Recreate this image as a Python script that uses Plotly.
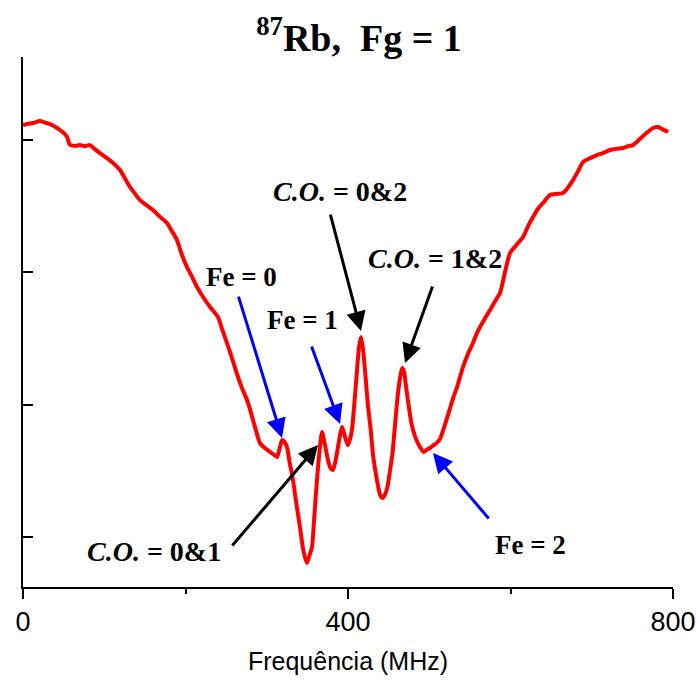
import plotly.graph_objects as go

# Frequency (MHz) and signal (arb. units)
freq = [0, 6.0, 12.3, 20.9, 27.0, 33.2, 40.0, 45.5, 50.0, 54.2, 57.8, 64.0, 70.2, 76.0,
        82.5, 88.0, 94.8, 103.4, 110.8, 119.4, 125.0, 131.7, 138.0, 144.0, 152.0, 160.0,
        168.0, 177.2, 183.0, 189.5, 195.0, 201.8, 208.0, 214.2, 222.0, 230.2, 240.0,
        245.0, 251.1, 258.0, 264.6, 270.0, 275.7, 281.0, 285.5, 291.7, 298.0, 304.0,
        308.0, 312.6, 315.5, 318.8, 321.5, 324.9, 328.0, 332.3, 336.5, 340.9, 345.0,
        349.5, 352.5, 355.7, 358.5, 361.8, 365.0, 368.0, 371.5, 375.4, 378.5, 381.5,
        384.5, 387.7, 390.2, 392.6, 394.5, 396.3, 398.2, 400.0, 402.5, 404.9, 408.0,
        411.1, 413.5, 416.0, 418.5, 420.9, 424.6, 428.0, 430.8, 435.0, 439.4, 442.5,
        445.5, 448.5, 451.7, 454.8, 457.8, 461.0, 464.0, 466.5, 468.9, 471.5, 473.8,
        478.0, 482.5, 486.0, 488.6, 493.0, 497.2, 501.0, 504.6, 509.0, 513.2, 516.0,
        521.0, 526.0, 530.0, 534.2, 541.5, 547.5, 553.8, 558.0, 562.5, 568.5, 574.8,
        581.0, 587.1, 593.0, 599.4, 608.0, 615.4, 621.5, 627.7, 634.0, 640.0, 648.5,
        657.2, 664.6, 671.0, 676.9, 683.0, 689.2, 698.0, 706.5, 714.5, 722.5, 730.5,
        738.5, 745.0, 750.8, 756.0, 761.8, 768.5, 775.4, 781.5, 787.7, 794.0, 800.0]
signal = [4.109, 4.118, 4.125, 4.140, 4.128, 4.117, 4.095, 4.072, 4.050, 4.019, 3.960,
          3.952, 3.958, 3.950, 3.958, 3.930, 3.898, 3.860, 3.823, 3.770, 3.712, 3.642,
          3.590, 3.543, 3.505, 3.468, 3.420, 3.370, 3.312, 3.242, 3.140, 3.038, 2.965,
          2.887, 2.808, 2.736, 2.660, 2.570, 2.464, 2.335, 2.208, 2.118, 2.034, 1.930,
          1.830, 1.709, 1.670, 1.642, 1.625, 1.604, 1.660, 1.732, 1.720, 1.679, 1.570,
          1.430, 1.250, 1.075, 0.900, 0.804, 0.860, 0.925, 1.150, 1.430, 1.650, 1.792,
          1.700, 1.581, 1.520, 1.506, 1.570, 1.679, 1.770, 1.830, 1.800, 1.755, 1.720,
          1.694, 1.740, 1.808, 2.020, 2.260, 2.430, 2.509, 2.420, 2.260, 1.990, 1.808,
          1.620, 1.453, 1.320, 1.294, 1.320, 1.377, 1.500, 1.634, 1.840, 2.057, 2.200,
          2.275, 2.250, 2.132, 2.030, 1.860, 1.760, 1.709, 1.680, 1.642, 1.660, 1.672,
          1.690, 1.709, 1.740, 1.785, 1.880, 1.981, 2.060, 2.132, 2.283, 2.380, 2.464,
          2.530, 2.585, 2.650, 2.713, 2.780, 2.842, 2.992, 3.143, 3.210, 3.264, 3.345,
          3.415, 3.480, 3.521, 3.581, 3.590, 3.596, 3.640, 3.694, 3.760, 3.830, 3.860,
          3.883, 3.900, 3.921, 3.930, 3.936, 3.950, 3.958, 3.985, 4.019, 4.055, 4.087,
          4.094, 4.075, 4.057]

x_tickvals = [0, 400, 800]
x_ticktext = ["0", "400", "800"]
y_tickvals = [1, 2, 3, 4]

# Annotations: label text, arrow head (data), tail offset (px), label pos (data), colour
labels = ["Fe = 0", "Fe = 1", "<i>C.O.</i> = 0&amp;2", "<i>C.O.</i> = 1&amp;2",
          "<i>C.O.</i> = 0&amp;1", "Fe = 2"]
head_x = [318.8, 390.2, 416.0, 470.2, 363.1, 504.6]
head_y = [1.747, 1.853, 2.555, 2.313, 1.694, 1.634]
tail_dx = [-44, -29, -31, 28, -87, 57]
tail_dy = [-143, -79, -118, -78, 102, 67]
label_x = [269.5, 344.6, 390.2, 507.1, 161.2, 624.0]
label_y = [2.962, 2.638, 3.611, 3.106, 0.894, 0.940]
arrow_colors = ["#0000FF", "#0000FF", "#000000", "#000000", "#000000", "#0000FF"]

fig = go.Figure()
fig.add_trace(go.Scatter(x=freq, y=signal, mode="lines",
                         line=dict(color="#FF0000", width=4, shape="spline", smoothing=0.6),
                         showlegend=False, hoverinfo="skip"))

annotations = []
for i in range(len(labels)):
    annotations.append(dict(x=head_x[i], y=head_y[i], xref="x", yref="y", text="",
                            showarrow=True, ax=tail_dx[i], ay=tail_dy[i],
                            arrowhead=2, arrowsize=1.3, arrowwidth=3,
                            arrowcolor=arrow_colors[i], standoff=0, startstandoff=0))
    size = 27 if labels[i].startswith("Fe") else 28
    annotations.append(dict(x=label_x[i], y=label_y[i], xref="x", yref="y",
                            text="<b>" + labels[i] + "</b>", showarrow=False,
                            font=dict(family="Liberation Serif", size=size, color="black"),
                            xanchor="center", yanchor="middle"))

fig.update_layout(
    width=700, height=684,
    margin=dict(l=23, r=27, t=57, b=97, autoexpand=False),
    plot_bgcolor="white", paper_bgcolor="white",
    title=dict(text="<b><sup>87</sup>Rb,  Fg = 1</b>", x=0.513, xanchor="center",
               y=0.945, yanchor="middle",
               font=dict(family="Liberation Serif", size=38, color="black")),
    annotations=annotations,
    xaxis=dict(range=[0, 800], showline=True, linecolor="black", linewidth=2,
               ticks="outside", ticklen=10, tickwidth=2, tickcolor="black",
               tickvals=x_tickvals, ticktext=x_ticktext, showgrid=False, zeroline=False,
               automargin=False,
               tickfont=dict(family="Liberation Sans", size=27, color="black"),
               minor=dict(tickvals=[200, 600], ticks="outside", ticklen=5, tickwidth=2,
                          tickcolor="black", showgrid=False),
               title=dict(text="Frequência (MHz)", standoff=16,
                          font=dict(family="Liberation Sans", size=25, color="black"))),
    yaxis=dict(range=[0.623, 4.623], showline=True, linecolor="black", linewidth=2,
               ticks="inside", ticklen=10, tickwidth=2, tickcolor="black",
               automargin=False,
               tickvals=y_tickvals, showticklabels=False, showgrid=False, zeroline=False),
)

fig.write_html("out.html")
